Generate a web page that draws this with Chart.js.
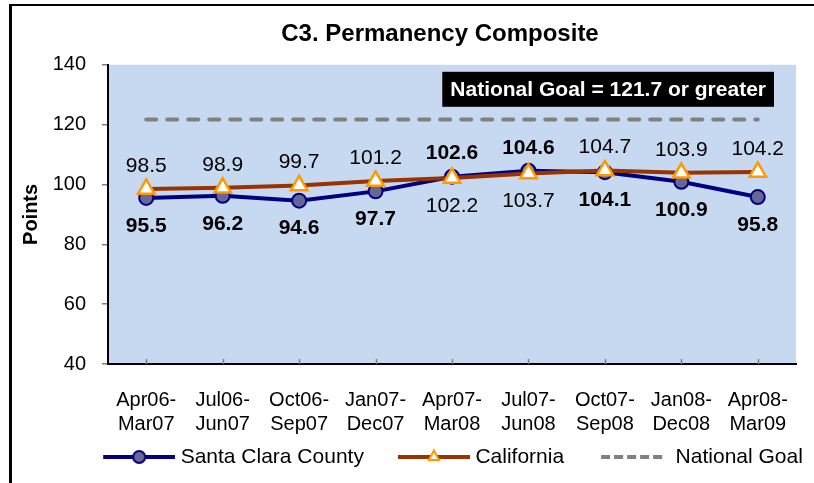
<!DOCTYPE html>
<html><head><meta charset="utf-8">
<script src="https://cdn.jsdelivr.net/npm/chart.js@4/dist/chart.umd.min.js"></script>
<style>
html,body{margin:0;padding:0;background:#fff;overflow:hidden;}
#wrap{position:relative;width:868px;height:483px;}
</style></head><body>
<div id="wrap"><canvas id="c" width="868" height="483"></canvas></div>
<script>
// ---- data ----
const categories = [['Apr06-','Mar07'],['Jul06-','Jun07'],['Oct06-','Sep07'],['Jan07-','Dec07'],['Apr07-','Mar08'],['Jul07-','Jun08'],['Oct07-','Sep08'],['Jan08-','Dec08'],['Apr08-','Mar09']];
const santaClara = [95.5, 96.2, 94.6, 97.7, 102.6, 104.6, 104.1, 100.9, 95.8];
const california = [98.5, 98.9, 99.7, 101.2, 102.2, 103.7, 104.7, 103.9, 104.2];
const nationalGoal = [121.7, 121.7, 121.7, 121.7, 121.7, 121.7, 121.7, 121.7, 121.7];
const yTicks = [40, 60, 80, 100, 120, 140];
const seriesNames = ['Santa Clara County', 'California', 'National Goal'];
const goalText = 'National Goal = 121.7 or greater';

// ---- label placement (style) ----
const scLabelSide = ['below','below','below','below','above','above','below','below','below'];
const caLabelSide = ['above','above','above','above','below','below','above','above','above'];

const FONT = '"Liberation Sans", Arial, Helvetica, sans-serif';
Chart.defaults.font.family = FONT;
Chart.defaults.color = '#000';

const W = 868;
const NAVY = '#000080', SC_FILL = '#666699', BROWN = '#993300', ORANGE = '#FF9900', GRAY = '#808080';

// legend symbol geometry
const LEAD = 26;               // blank space before each legend symbol
const SYM_W = 72;              // visible symbol width
const BOX_W = LEAD + SYM_W - 5; // legend box width used by Chart.js

function sym(kind) {
  const c = document.createElement('canvas');
  c.width = BOX_W + 10; c.height = 20;
  const g = c.getContext('2d');
  const x0 = LEAD + 5, x1 = x0 + SYM_W, xm = (x0 + x1) / 2;
  g.lineWidth = 4;
  if (kind === 0) {
    g.strokeStyle = NAVY; g.beginPath(); g.moveTo(x0, 10); g.lineTo(x1, 10); g.stroke();
    g.beginPath(); g.arc(xm, 10, 6, 0, Math.PI * 2); g.fillStyle = SC_FILL; g.fill();
    g.lineWidth = 2; g.strokeStyle = NAVY; g.stroke();
  } else if (kind === 1) {
    g.strokeStyle = BROWN; g.beginPath(); g.moveTo(x0, 10); g.lineTo(x1, 10); g.stroke();
    g.beginPath(); g.moveTo(xm, 3.5); g.lineTo(xm + 5, 13); g.lineTo(xm - 5, 13); g.closePath();
    g.fillStyle = '#fff'; g.fill(); g.lineWidth = 2; g.strokeStyle = ORANGE; g.stroke();
  } else {
    g.strokeStyle = GRAY; g.lineCap = 'butt'; g.setLineDash([9, 4]);
    g.beginPath(); g.moveTo(x0 + 3, 10); g.lineTo(x0 + 65, 10); g.stroke();
  }
  return c;
}

const decor = {
  id: 'decor',
  beforeDraw(chart) {
    const {ctx, chartArea: a} = chart;
    ctx.save();
    ctx.fillStyle = '#C6D9F1';
    ctx.fillRect(a.left, a.top, a.right - a.left, a.bottom - a.top);
    ctx.strokeStyle = '#000';
    ctx.lineWidth = 3;
    ctx.beginPath(); ctx.moveTo(10.5, 490); ctx.lineTo(10.5, 5); ctx.stroke();
    ctx.lineWidth = 2;
    ctx.beginPath(); ctx.moveTo(9, 5); ctx.lineTo(W, 5); ctx.stroke();
    ctx.restore();
  },
  beforeDatasetsDraw(chart) {
    const {ctx, chartArea: a, scales: {x}} = chart;
    ctx.save();
    ctx.strokeStyle = GRAY; ctx.lineWidth = 1.5;
    categories.forEach((c, i) => {
      const px = Math.round(x.getPixelForValue(i)) + 0.5;
      ctx.beginPath(); ctx.moveTo(px, a.bottom); ctx.lineTo(px, a.bottom - 5); ctx.stroke();
    });
    // annotation box
    ctx.font = 'bold 21px ' + FONT;
    const tw = ctx.measureText(goalText).width;
    const bw = tw + 16, bh = 35;
    const bx = a.right - 22 - bw, by = a.top + 7;
    ctx.fillStyle = '#000';
    ctx.fillRect(bx, by, bw, bh);
    ctx.fillStyle = '#fff';
    ctx.textAlign = 'center'; ctx.textBaseline = 'middle';
    ctx.fillText(goalText, bx + bw / 2, by + bh / 2 + 1);
    ctx.restore();
  },
  afterDatasetsDraw(chart) {
    const {ctx} = chart;
    ctx.save();
    ctx.textAlign = 'center'; ctx.textBaseline = 'middle'; ctx.fillStyle = '#000';
    const draw = (di, vals, sides, font) => {
      ctx.font = font;
      chart.getDatasetMeta(di).data.forEach((p, i) => {
        const dy = sides[i] === 'above' ? -23 : 28;
        ctx.fillText(vals[i].toFixed(1), p.x, p.y + dy);
      });
    };
    draw(1, california, caLabelSide, '21px ' + FONT);
    draw(0, santaClara, scLabelSide, 'bold 21px ' + FONT);
    ctx.restore();
  }
};

const syms = [sym(0), sym(1), sym(2)];

new Chart(document.getElementById('c'), {
  type: 'line',
  data: {
    labels: categories,
    datasets: [
      { label: seriesNames[0], data: santaClara, order: 1, borderColor: NAVY, borderWidth: 4,
        pointStyle: 'circle', pointRadius: 7, pointBackgroundColor: SC_FILL, pointBorderColor: NAVY, pointBorderWidth: 2, tension: 0 },
      { label: seriesNames[1], data: california, order: 0, borderColor: BROWN, borderWidth: 4,
        pointStyle: 'triangle', pointRadius: 9.5, pointBackgroundColor: '#fff', pointBorderColor: ORANGE, pointBorderWidth: 2.5, tension: 0 },
      { label: seriesNames[2], data: nationalGoal, order: 5, borderColor: GRAY, borderWidth: 4,
        borderDash: [10, 11], borderCapStyle: 'round', pointRadius: 0, tension: 0 }
    ]
  },
  options: {
    responsive: false,
    animation: false,
    devicePixelRatio: 1,
    layout: { padding: { left: 12, right: 0, top: 8, bottom: 5.5 } },
    plugins: {
      tooltip: { enabled: false },
      title: { display: true, text: 'C3. Permanency Composite', color: '#000',
        font: { size: 24, weight: 'bold' }, padding: { top: 12, bottom: 16 } },
      legend: {
        position: 'bottom',
        labels: {
          usePointStyle: true, pointStyleWidth: BOX_W, padding: 8, color: '#000',
          font: { size: 21 },
          generateLabels: () => seriesNames.map((n, i) => ({
            text: n, pointStyle: syms[i], datasetIndex: i, fillStyle: 'transparent', strokeStyle: 'transparent', lineWidth: 0, fontColor: '#000'
          }))
        }
      }
    },
    scales: {
      x: {
        type: 'category', offset: true,
        afterFit: s => { s.height = 74.5; },
        grid: { display: false, drawTicks: false },
        border: { display: true, color: '#000', width: 2 },
        ticks: { padding: 24, font: { size: 20 }, color: '#000', maxRotation: 0, autoSkip: false }
      },
      y: {
        min: 40, max: 140,
        afterBuildTicks: s => { s.ticks = yTicks.map(v => ({ value: v })); },
        afterFit: s => { s.width = 96; },
        grid: { drawOnChartArea: false, drawTicks: true, tickLength: 6, color: GRAY, lineWidth: 1.5 },
        border: { display: true, color: '#000', width: 2 },
        ticks: { padding: 16, font: { size: 20 }, color: '#000' },
        title: { display: true, text: 'Points', font: { size: 20, weight: 'bold' }, padding: { top: 7, bottom: 0 }, color: '#000' }
      },
      y2: {
        type: 'linear', position: 'right', min: 0, max: 1,
        afterFit: s => { s.width = W - 796; },
        grid: { display: false, drawTicks: false }, border: { display: false },
        ticks: { display: false }
      }
    }
  },
  plugins: [decor]
});
</script>
</body></html>
